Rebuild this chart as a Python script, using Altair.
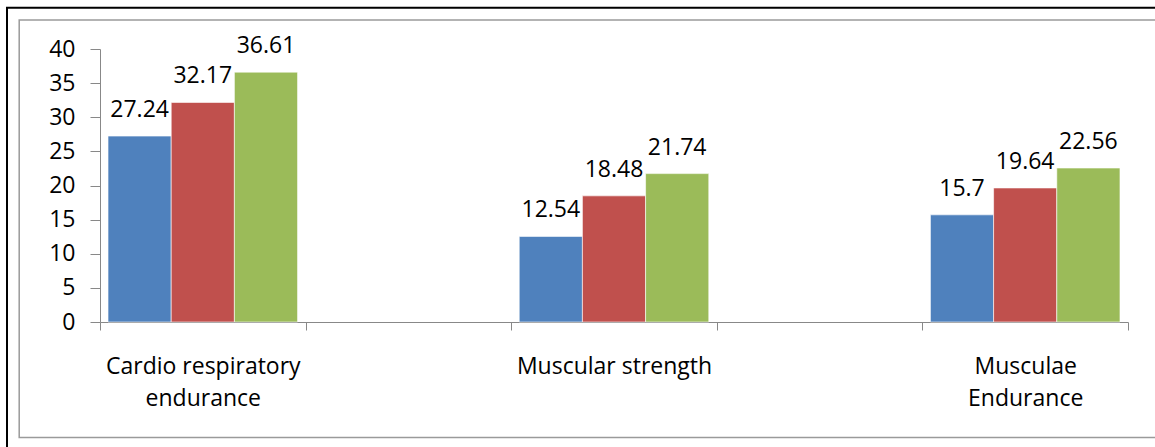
import altair as alt
import pandas as pd

categories = ["Cardio respiratory endurance", "Muscular strength", "Musculae Endurance"]
series = ["Series1", "Series2", "Series3"]
series1 = [27.24, 12.54, 15.7]
series2 = [32.17, 18.48, 19.64]
series3 = [36.61, 21.74, 22.56]
y_ticks = [0, 5, 10, 15, 20, 25, 30, 35, 40]
colors = ["#4F81BD", "#C0504D", "#9BBB59"]
# empty category slots between the groups, as in the original layout
x_domain = [categories[0], "gap1", categories[1], "gap2", categories[2]]

rows = []
for s, vals in zip(series, [series1, series2, series3]):
    for c, v in zip(categories, vals):
        rows.append({"category": c, "series": s, "value": v, "label": str(v)})
df = pd.DataFrame(rows)

FONT = "Open Sans"
FS = 23
AX = "#888888"

label_expr = (
    "datum.value == 'Cardio respiratory endurance' ? ['Cardio respiratory', 'endurance'] : "
    "datum.value == 'Musculae Endurance' ? ['Musculae', 'Endurance'] : "
    "(datum.value == 'gap1' || datum.value == 'gap2') ? '' : datum.value"
)

x = alt.X(
    "category:N",
    scale=alt.Scale(domain=x_domain, paddingInner=0, paddingOuter=0),
    axis=alt.Axis(
        title=None, labelAngle=0, tickBand="extent", tickSize=8, tickColor=AX,
        domainColor=AX, labelPadding=43, labelBaseline="alphabetic",
        labelFont=FONT, labelFontSize=FS, labelColor="black", labelLimit=400,
        labelOverlap=False, labelFlush=False, labelLineHeight=32, labelExpr=label_expr,
    ),
)
xoff = alt.XOffset("series:N", scale=alt.Scale(domain=series, paddingInner=0, paddingOuter=0.127))
y = alt.Y(
    "value:Q",
    scale=alt.Scale(domain=[0, 40], nice=False),
    axis=alt.Axis(
        title=None, values=y_ticks, grid=False, tickSize=10, tickColor=AX, domainColor=AX,
        labelPadding=15, labelFont=FONT, labelFontSize=FS, labelColor="black",
    ),
)

bars = alt.Chart(df).mark_bar(stroke="white", strokeWidth=0.6).encode(
    x=x, xOffset=xoff, y=y,
    color=alt.Color("series:N", scale=alt.Scale(domain=series, range=colors), legend=None),
)
texts = alt.Chart(df).mark_text(
    baseline="alphabetic", dy=-19, font=FONT, fontSize=FS, color="black"
).encode(x=x, xOffset=xoff, y=y, text=alt.Text("label:N"))

frame_data = alt.Data(values=[{"f": 1}])
outer = alt.Chart(frame_data).mark_rect(fill=None, stroke="black", strokeWidth=2).encode(
    x=alt.value(-93), x2=alt.value(1070), y=alt.value(-41.3), y2=alt.value(420)
)
inner = alt.Chart(frame_data).mark_rect(fill=None, stroke="#9a9a9a", strokeWidth=1.5).encode(
    x=alt.value(-80.8), x2=alt.value(1060), y=alt.value(-29), y2=alt.value(388.5)
)

chart = alt.layer(outer, inner, bars, texts).properties(
    width=1028, height=273,
    autosize=alt.AutoSizeParams(type="none"),
    padding={"left": 100, "top": 49, "right": 27, "bottom": 125},
    background="white",
).configure_view(stroke=None)

chart.save("out.html", embed_options={"renderer": "svg", "actions": False})
